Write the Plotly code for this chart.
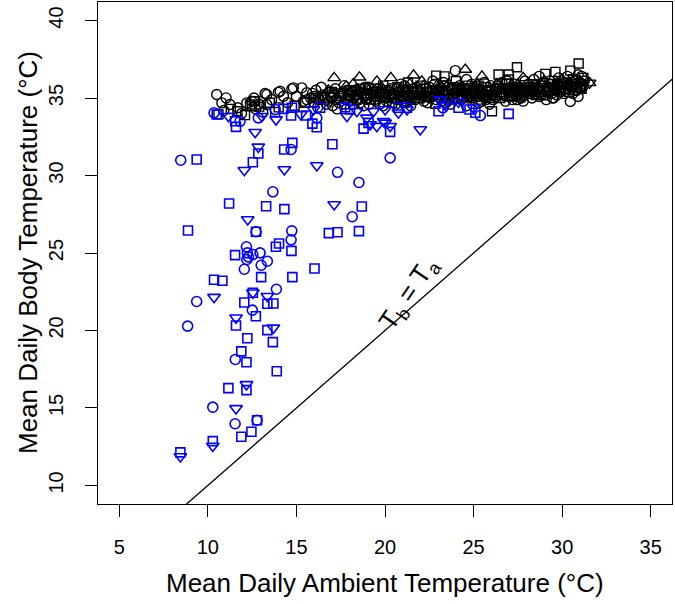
import plotly.graph_objects as go

# ---------------- data ----------------
# Black circles
blk_circ_x = [10.50, 11.03, 10.79, 11.25, 11.69, 12.20, 12.48, 13.33, 13.33, 13.98, 14.27, 14.74,
              15.30, 15.59, 13.23, 14.08, 14.83, 12.70, 12.90, 13.60, 14.50, 15.00, 15.40, 15.80,
              11.90, 10.90, 12.60, 13.10,
              16.1, 16.3, 16.5, 16.7, 16.9, 16.2,
              17.0, 17.2, 17.4, 17.6, 17.8, 17.9, 17.3,
              18.0, 18.2, 18.3, 18.5, 18.7, 18.8, 18.9,
              19.0, 19.1, 19.3, 19.5, 19.6, 19.8, 19.9,
              20.0, 20.1, 20.3, 20.4, 20.6, 20.8, 20.9,
              21.0, 21.2, 21.3, 21.5, 21.7, 21.8, 21.9,
              22.1, 22.3, 22.4, 22.6, 22.8, 22.9,
              23.0, 23.2, 23.3, 23.5, 23.7, 23.8, 23.97, 23.9,
              24.0, 24.2, 24.3, 24.5, 24.6, 24.8, 24.9,
              25.0, 25.2, 25.3, 25.5, 25.6, 25.8, 25.9,
              26.0, 26.1, 26.4, 26.7, 26.8, 26.9,
              27.0, 27.2, 27.3, 27.5, 27.6, 27.8, 27.9,
              28.0, 28.1, 28.3, 28.4, 28.6, 28.7, 28.9,
              29.0, 29.1, 29.3, 29.52, 29.6, 29.8, 29.9,
              30.0, 30.1, 30.3, 30.46, 30.5, 30.7, 30.8, 30.9, 31.0, 31.1,
              15.6, 15.9, 16.0, 16.4, 16.6, 16.8, 17.05, 17.5, 17.7, 18.05, 18.4, 18.6, 18.85,
              19.05, 19.2, 19.4, 19.7, 19.75, 20.05, 20.2, 20.5, 20.7, 20.95, 21.1, 21.4, 21.6,
              22.0, 22.2, 22.5, 22.7, 22.95, 23.1, 23.4, 23.6, 23.85, 24.1, 24.4, 24.7, 24.95,
              25.1, 25.4, 25.7, 25.95, 26.2, 26.3, 26.55, 26.6, 26.85, 27.1, 27.4, 27.7, 27.95,
              28.2, 28.45, 28.5, 28.8, 29.05, 29.25, 29.4, 29.7, 29.95, 30.2, 30.4, 30.6, 30.75,
              31.05, 31.2, 16.0, 17.15, 18.15, 19.15, 20.25, 21.25, 22.25, 23.25, 24.25, 25.25,
              26.25, 27.25, 28.25, 29.25, 30.25, 21.45, 23.45, 25.45, 27.45, 29.45, 24.6, 22.7,
              28.7, 30.9,
              16.45, 16.95, 17.25, 17.65, 17.95, 18.25, 18.55, 18.95, 19.25, 19.55, 19.85, 20.15,
              20.45, 20.65, 20.85, 21.15, 21.35, 21.65, 21.85, 22.15, 22.35, 22.55, 22.85, 23.15,
              23.35, 23.55, 23.75, 24.05, 24.35, 24.55, 24.85, 25.05, 25.35, 25.55, 25.75, 26.05,
              26.35, 26.65, 26.95, 27.15, 27.35, 27.65, 27.85, 28.05, 28.35, 28.65, 28.85, 29.15,
              29.35, 29.55, 29.85, 30.05, 30.35, 30.55, 30.85, 31.15, 31.25]
blk_circ_y = [35.23, 35.01, 34.69, 34.58, 34.37, 34.69, 34.79, 35.23, 34.58, 35.37, 35.12, 35.59,
              35.66, 35.34, 35.29, 35.44, 35.66, 34.30, 34.60, 34.90, 34.70, 35.10, 34.80, 35.00,
              34.00, 34.20, 35.00, 34.10,
              35.5, 34.9, 35.2, 34.6, 35.4, 34.4,
              35.0, 35.6, 34.7, 35.3, 34.9, 35.5, 34.3,
              35.1, 34.6, 35.5, 34.9, 35.3, 34.5, 35.7,
              35.0, 34.6, 35.4, 34.8, 35.6, 35.1, 34.5,
              35.3, 34.8, 35.6, 35.0, 34.6, 35.4, 35.9,
              35.1, 34.7, 35.5, 35.2, 34.9, 35.7, 35.3,
              35.0, 35.6, 34.7, 35.3, 35.9, 34.9,
              35.4, 34.8, 36.0, 35.2, 34.6, 35.6, 36.77, 35.0,
              35.3, 35.8, 34.9, 35.5, 34.5, 35.2, 35.9,
              35.0, 35.6, 34.7, 35.3, 36.0, 35.1, 34.6,
              35.5, 34.9, 35.8, 35.2, 34.8, 36.1,
              35.4, 34.9, 35.9, 35.2, 35.7, 34.8, 36.1,
              35.4, 35.9, 35.0, 36.2, 35.6, 35.1, 36.0,
              35.5, 34.9, 36.1, 35.01, 35.7, 36.3, 35.4,
              35.9, 35.3, 36.4, 34.78, 35.7, 36.1, 35.5, 35.1, 36.0, 36.4,
              34.9, 35.3, 34.7, 35.7, 35.0, 34.8, 34.5, 35.1, 35.8, 34.8, 35.2, 34.7, 35.1,
              35.7, 35.2, 34.9, 34.6, 35.4, 35.0, 35.5, 35.3, 34.9, 35.2, 35.8, 34.9, 35.6,
              35.4, 34.8, 35.7, 35.1, 35.5, 35.1, 35.5, 35.0, 35.3, 35.0, 35.4, 35.0, 35.4,
              35.3, 35.5, 34.9, 35.8, 35.6, 35.1, 35.4, 36.0, 35.5, 35.7, 35.5, 35.0, 35.6,
              35.3, 35.8, 35.3, 35.4, 35.2, 35.7, 35.3, 35.2, 35.7, 35.6, 35.9, 35.3, 35.9,
              35.6, 35.8, 35.1, 35.2, 35.4, 35.3, 35.2, 35.3, 35.3, 35.4, 35.6, 35.1,
              35.4, 35.3, 35.5, 35.5, 35.8, 34.5, 34.7, 34.8, 34.9, 35.0, 36.2, 36.1,
              36.4, 36.5,
              35.0, 35.1, 34.9, 35.4, 35.2, 35.0, 35.4, 34.9, 35.6, 35.1, 35.3, 35.4,
              35.2, 35.6, 35.0, 35.4, 35.1, 35.3, 35.5, 35.2, 35.4, 35.0, 35.3, 35.6,
              35.3, 35.7, 35.2, 35.5, 35.2, 35.6, 35.3, 35.7, 35.4, 35.1, 35.5, 35.2,
              35.6, 35.3, 35.6, 35.2, 35.7, 35.5, 35.2, 35.7, 35.4, 35.7, 35.2, 35.6,
              35.9, 35.5, 35.8, 35.5, 35.6, 36.0, 35.7, 35.9, 36.1]

# Black squares
blk_sq_x = [10.60, 11.67, 12.38, 12.60, 12.90, 13.50, 14.00, 14.90, 15.50, 11.30, 12.10, 13.80,
            12.48, 12.67,
            16.6, 17.1, 17.7, 18.1, 18.6, 19.2, 19.7, 20.2, 20.7, 21.1, 21.6, 22.0, 22.5, 22.89,
            23.1, 23.36, 23.6, 24.1, 24.4, 24.7, 25.1, 25.4, 25.7, 26.04, 26.2, 26.41, 26.98,
            26.6, 27.1, 27.45, 27.4, 27.7, 28.2, 28.5, 28.8, 29.05, 29.2, 29.62, 29.7, 30.2,
            30.46, 30.6, 30.93, 31.0, 31.2, 22.84, 25.9, 27.0, 24.0, 21.3, 19.9,
            16.2, 17.4, 18.4, 19.5, 20.4, 21.0, 21.9, 22.7, 23.4, 23.9, 24.6, 25.3, 25.6, 26.5,
            26.8, 27.3, 27.9, 28.4, 28.7, 29.4, 29.9, 30.4, 30.8, 31.1, 20.0, 18.9, 17.9,
            17.0, 18.0, 19.0, 20.5, 21.5, 22.3, 23.3, 24.2, 25.0, 25.8, 26.7, 27.6, 28.6, 29.5,
            30.1, 30.7]
blk_sq_y = [33.95, 34.15, 34.58, 34.80, 34.45, 34.70, 34.40, 34.50, 34.70, 34.30, 33.90, 34.10,
            34.47, 34.79,
            34.9, 35.3, 34.6, 35.2, 35.6, 34.9, 35.3, 35.1, 35.7, 34.8, 35.4, 35.8, 35.1, 36.45,
            35.5, 36.40, 34.9, 35.6, 35.1, 35.8, 35.3, 34.9, 35.7, 34.15, 35.2, 36.52, 36.52,
            35.6, 35.1, 36.99, 35.6, 35.3, 35.7, 35.2, 35.8, 36.56, 35.4, 36.69, 35.9, 35.6,
            36.77, 36.2, 37.23, 35.7, 36.3, 34.63, 35.0, 36.2, 36.1, 36.0, 35.8,
            35.0, 35.0, 34.9, 35.4, 34.7, 35.5, 35.0, 35.5, 35.2, 35.7, 35.3, 35.8, 35.2, 35.0,
            35.9, 35.4, 35.5, 35.9, 35.4, 35.9, 35.5, 35.4, 35.9, 35.6, 35.5, 35.2, 35.0,
            35.4, 35.5, 35.3, 35.0, 35.0, 35.1, 35.8, 35.2, 35.5, 35.4, 35.4, 35.1, 35.5, 35.6,
            36.0, 35.5]

# Black up-triangles
blk_tri_x = [17.13, 17.81, 18.56, 19.54, 20.33, 21.61, 22.08, 24.53, 25.47, 18.2, 19.0, 20.9,
             21.4, 22.5, 23.2, 24.0, 24.9, 25.6, 26.3, 27.2, 27.8, 28.4, 29.0, 29.5, 30.0, 30.6,
             31.0, 19.4, 20.6, 23.6, 26.0, 28.1, 31.55,
             16.8, 17.5, 18.7, 19.8, 21.2, 22.2, 23.0, 24.3, 25.2, 26.6, 27.5, 28.8, 29.7, 30.4,
             21.8, 24.7, 27.0, 30.8]
blk_tri_y = [36.30, 35.76, 36.34, 36.08, 36.30, 36.47, 36.08, 36.84, 36.40, 35.9, 35.6, 35.5,
             35.9, 35.5, 35.7, 35.4, 35.6, 35.2, 35.9, 35.5, 36.3, 35.6, 36.1, 35.4, 36.2, 35.8,
             36.1, 35.2, 35.2, 35.9, 35.3, 35.3, 35.98,
             35.5, 35.3, 35.6, 35.7, 35.6, 35.8, 35.9, 35.7, 35.9, 35.6, 35.9, 35.9, 36.0, 36.0,
             35.1, 35.0, 35.0, 35.6]

# Black down-triangle (overlaid summary marker)
blk_dtri_x = [31.55]
blk_dtri_y = [35.98]

# Blue circles
blu_circ_x = [8.47, 14.70, 17.32, 18.53, 13.67, 18.15, 12.72, 14.74, 14.70, 12.18, 12.23, 12.29,
              12.20, 12.54, 12.95, 13.36, 13.01, 12.06, 13.87, 9.37, 12.51, 8.86, 11.55, 10.28,
              11.54, 12.78, 10.35, 11.82, 12.85, 13.80, 16.15, 20.29, 23.27, 25.38]
blu_circ_y = [30.99, 31.68, 30.21, 29.55, 28.95, 27.34, 26.37, 26.43, 25.85, 25.40, 25.01, 24.75,
              24.58, 24.90, 25.01, 24.47, 24.21, 23.95, 22.66, 21.87, 21.31, 20.28, 18.13, 15.05,
              13.98, 14.21, 34.05, 33.50, 33.72, 34.26, 33.72, 31.14, 34.37, 33.87]

# Blue squares
blu_sq_x = [12.85, 14.77, 14.31, 17.03, 9.37, 12.54, 11.20, 13.29, 14.32, 18.69, 8.88, 12.72,
            16.83, 17.32, 18.53, 13.84, 14.02, 14.72, 11.54, 16.02, 13.01, 14.77, 10.35, 10.82,
            12.54, 13.36, 13.70, 12.06, 12.71, 11.59, 13.36, 12.23, 13.67, 11.89, 12.18, 13.89,
            11.16, 12.18, 12.78, 12.46, 11.89, 10.28, 8.45,
            10.50, 11.54, 11.59, 14.27, 14.70, 15.55, 15.90, 16.15, 18.79, 19.07, 20.29, 14.75,
            16.34, 17.75, 18.03, 20.76, 21.24, 23.02, 24.15, 24.77, 25.10, 26.98]
blu_sq_y = [31.42, 32.11, 31.68, 32.02, 31.03, 30.86, 28.19, 28.02, 27.83, 28.00, 26.45, 26.37,
            26.28, 26.34, 26.41, 25.40, 25.61, 25.14, 24.86, 24.00, 23.44, 23.44, 23.27, 23.21,
            22.43, 21.72, 21.74, 21.81, 20.92, 20.32, 20.02, 19.50, 19.25, 18.65, 17.95, 17.37,
            16.28, 16.15, 14.21, 13.46, 13.14, 12.86, 12.13,
            33.94, 33.50, 33.14, 34.30, 33.87, 33.87, 33.35, 33.12, 33.03, 33.40, 32.82, 34.37,
            34.37, 34.41, 34.26, 34.37, 34.37, 34.15, 34.37, 34.26, 34.05, 33.98]

# Blue down-triangles
blu_tri_x = [12.85, 12.06, 14.32, 16.15, 17.13, 12.25, 12.54, 13.36, 10.35, 11.59, 13.70, 12.18,
             11.59, 10.28, 8.45,
             11.16, 12.67, 13.05, 13.85, 15.25, 17.85, 18.41, 18.98, 19.35, 20.01, 19.92, 20.29,
             15.96, 19.16, 19.54, 21.99, 20.76, 21.24, 23.12, 23.40, 24.15, 25.00, 20.01]
blu_tri_y = [31.85, 30.34, 30.39, 30.65, 28.13, 27.16, 22.43, 22.21, 22.15, 20.82, 20.17, 16.52,
             14.97, 12.54, 11.87,
             33.83, 32.79, 33.83, 33.61, 33.94, 33.83, 34.15, 33.72, 34.15, 34.26, 33.50, 33.18,
             34.26, 33.29, 33.18, 32.97, 34.05, 34.26, 34.90, 34.58, 34.75, 34.37, 33.40]

# Identity line Tb = Ta
line_x = [0, 40]
line_y = [0, 40]

x_ticks = [5, 10, 15, 20, 25, 30, 35]
y_ticks = [10, 15, 20, 25, 30, 35, 40]

# ---------------- figure ----------------
BLACK = "#000000"
BLUE = "#0000FF"
FONT = "Liberation Sans, Arial, Helvetica, sans-serif"


def pts(x, y, symbol, color, size, width):
    return go.Scatter(x=x, y=y, mode="markers", showlegend=False, hoverinfo="skip",
                      marker=dict(symbol=symbol, size=size, color=color,
                                  line=dict(color=color, width=width)))


fig = go.Figure()
fig.add_trace(go.Scatter(x=line_x, y=line_y, mode="lines", showlegend=False,
                         line=dict(color=BLACK, width=1.3), hoverinfo="skip"))
fig.add_trace(pts(blk_circ_x, blk_circ_y, "circle-open", BLACK, 10, 1.4))
fig.add_trace(pts(blk_sq_x, blk_sq_y, "square-open", BLACK, 9, 1.4))
fig.add_trace(pts(blk_tri_x, blk_tri_y, "triangle-up-open", BLACK, 11, 1.4))
fig.add_trace(pts(blk_dtri_x, blk_dtri_y, "triangle-down-open", BLACK, 11, 1.4))
fig.add_trace(pts(blu_circ_x, blu_circ_y, "circle-open", BLUE, 10, 1.6))
fig.add_trace(pts(blu_sq_x, blu_sq_y, "square-open", BLUE, 9, 1.6))
fig.add_trace(pts(blu_tri_x, blu_tri_y, "triangle-down-open", BLUE, 11, 1.6))

axis_common = dict(showgrid=False, zeroline=False, showline=True, linecolor=BLACK,
                   linewidth=1.3, mirror=True, ticks="outside", ticklen=12, tickwidth=1.3,
                   tickcolor=BLACK, automargin=False,
                   tickfont=dict(family=FONT, size=20, color=BLACK))

fig.update_xaxes(range=[3.8, 36.2], tickvals=x_ticks, ticktext=[str(v) for v in x_ticks],
                 ticklabelstandoff=13, **axis_common)
fig.update_yaxes(range=[8.8, 41.2], tickvals=y_ticks, ticktext=[str(v) for v in y_ticks],
                 tickangle=-90, ticklabelstandoff=14, **axis_common)

fig.add_annotation(text="Mean Daily Ambient Temperature (°C)", xref="paper", yref="paper",
                   x=0.5, y=0, yanchor="middle", xanchor="center", yshift=-79, showarrow=False,
                   font=dict(family=FONT, size=26, color=BLACK))
fig.add_annotation(text="Mean Daily Body Temperature (°C)", xref="paper", yref="paper",
                   x=0, y=0.5, xanchor="center", yanchor="middle", xshift=-70, textangle=-90,
                   showarrow=False, font=dict(family=FONT, size=26, color=BLACK))
fig.add_annotation(text="T<sub>b</sub> = T<sub>a</sub>", xref="x", yref="y", x=21.7, y=22.0,
                   xshift=-6, yshift=6,
                   textangle=-56, showarrow=False, font=dict(family=FONT, size=26, color=BLACK))

fig.update_layout(width=675, height=604, paper_bgcolor="white", plot_bgcolor="white",
                  margin=dict(l=98, r=3, t=2, b=100), showlegend=False)

fig.write_html("out.html", config={"displayModeBar": False},
               post_script="document.body.style.margin='0';document.body.style.padding='0';")
